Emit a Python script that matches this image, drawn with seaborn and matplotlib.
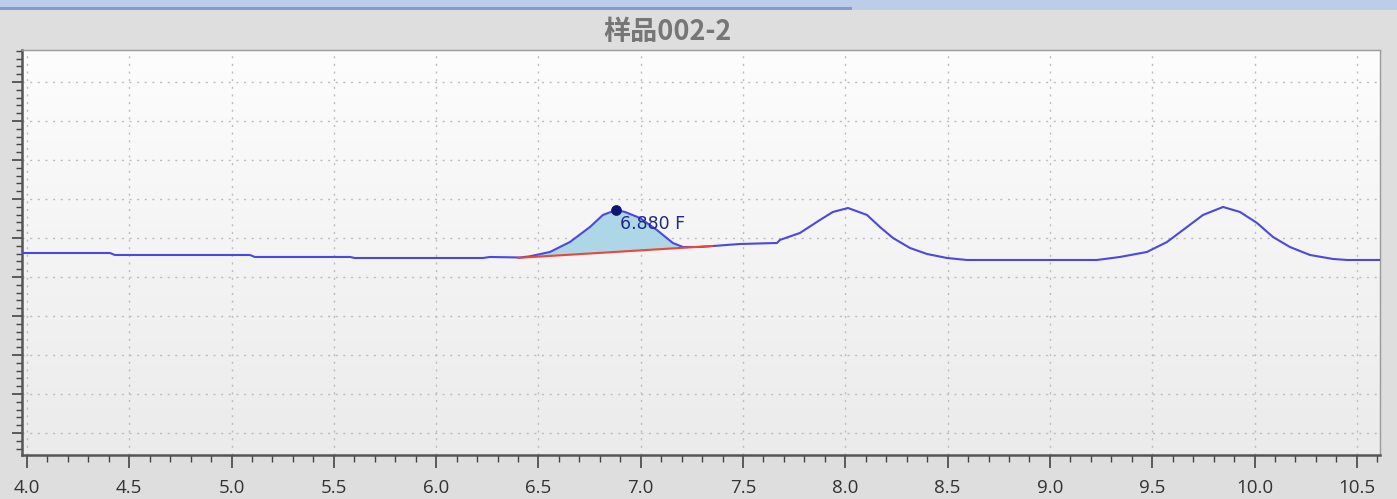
import numpy as np
import pandas as pd
import matplotlib
matplotlib.use("Agg")
import matplotlib.pyplot as plt
from matplotlib.ticker import MultipleLocator, FormatStrFormatter
from matplotlib.patches import Rectangle
import seaborn as sns

# Chromatogram trace (retention time in min, detector signal)
time_min = [3.976, 4.406, 4.430, 5.090, 5.114, 5.579, 5.603, 6.229, 6.263, 6.41,
            6.458, 6.556, 6.654, 6.752, 6.815, 6.880, 6.923, 6.996, 7.079, 7.157,
            7.206, 7.289, 7.485, 7.666, 7.680, 7.778, 7.876, 7.939, 8.013, 8.106,
            8.169, 8.233, 8.316, 8.399, 8.497, 8.594, 9.230, 9.342, 9.474, 9.572,
            9.670, 9.748, 9.846, 9.929, 10.012, 10.090, 10.173, 10.271, 10.383,
            10.452, 10.613]
signal = [5.615, 5.615, 5.564, 5.564, 5.513, 5.513, 5.487, 5.487, 5.513, 5.50,
          5.53, 5.641, 5.897, 6.282, 6.590, 6.718, 6.667, 6.513, 6.205, 5.872,
          5.769, 5.769, 5.846, 5.872, 5.949, 6.128, 6.462, 6.667, 6.769, 6.590,
          6.282, 6.000, 5.744, 5.590, 5.487, 5.436, 5.436, 5.513, 5.641, 5.897,
          6.282, 6.590, 6.795, 6.667, 6.385, 6.026, 5.769, 5.564, 5.462,
          5.436, 5.436]

# Integrated peak
peak_time = 6.880
peak_signal = 6.718
peak_label = "6.880 F"
baseline_start = (6.40, 5.49)
baseline_end = (7.35, 5.795)

x_ticks = [4.0, 4.5, 5.0, 5.5, 6.0, 6.5, 7.0, 7.5, 8.0, 8.5, 9.0, 9.5, 10.0, 10.5]
title = "样品002-2"

sns.set_style("white")
plt.rcParams["font.family"] = ["Noto Sans CJK SC", "DejaVu Sans"]

fig = plt.figure(figsize=(13.97, 4.99), dpi=100)
fig.patch.set_facecolor("#dedede")

# window strip along the top edge
fig.add_artist(Rectangle((0, 0.98), 1, 0.02, transform=fig.transFigure,
                         facecolor="#bccde9", edgecolor="none"))
fig.add_artist(Rectangle((0, 0.979), 0.61, 0.006, transform=fig.transFigure,
                         facecolor="#7f9dcc", edgecolor="none"))

ax = fig.add_axes([0.01575, 0.0882, 0.97205, 0.8116])
xmin, xmax = 3.976, 10.613
ymin, ymax = 0.436, 10.82

# soft vertical gradient behind the plot
grad = np.linspace(0, 1, 256).reshape(-1, 1)
ax.imshow(grad, extent=[xmin, xmax, ymin, ymax], aspect="auto", origin="upper",
          cmap=matplotlib.colors.LinearSegmentedColormap.from_list(
              "bg", ["#fdfdfd", "#ebebeb"]), zorder=0)

df = pd.DataFrame({"time": time_min, "signal": signal})
sns.lineplot(data=df, x="time", y="signal", ax=ax, color="#4a48e0",
             linewidth=1.5, zorder=4)

# shaded peak area above the straight baseline
t = np.array(time_min)
s = np.array(signal)
tp = np.linspace(baseline_start[0], baseline_end[0], 200)
sp = np.interp(tp, t, s)
bl = np.interp(tp, [baseline_start[0], baseline_end[0]],
               [baseline_start[1], baseline_end[1]])
ax.fill_between(tp, bl, np.maximum(sp, bl), color="#a9d6e6", alpha=0.95,
                zorder=3, linewidth=0)
ax.plot([baseline_start[0], baseline_end[0]], [baseline_start[1], baseline_end[1]],
        color="#e8473a", linewidth=1.5, zorder=5)

ax.scatter([peak_time], [peak_signal], s=45, color="#0d1670", zorder=6)
ax.text(peak_time + 0.02, peak_signal - 0.50, peak_label, fontsize=12.5,
        color="#1f2a80", zorder=7, family=["DejaVu Sans"])

ax.set_xlim(xmin, xmax)
ax.set_ylim(ymin, ymax)
ax.set_xticks(x_ticks)
ax.xaxis.set_major_formatter(FormatStrFormatter("%.1f"))
ax.xaxis.set_minor_locator(MultipleLocator(0.1))
ax.yaxis.set_major_locator(MultipleLocator(1))
ax.yaxis.set_minor_locator(MultipleLocator(0.2))
ax.tick_params(axis="y", which="both", labelleft=False, left=True,
               direction="out", color="#444444")
ax.tick_params(axis="y", which="major", length=7, width=1.2)
ax.tick_params(axis="y", which="minor", length=4, width=1.0)
ax.tick_params(axis="x", which="both", bottom=True, direction="out",
               color="#444444", labelsize=13.5, labelcolor="#333333", pad=8)
ax.tick_params(axis="x", which="major", length=9, width=1.2)
ax.tick_params(axis="x", which="minor", length=5, width=1.0)
for lbl in ax.get_xticklabels():
    lbl.set_family(["Open Sans", "DejaVu Sans"])

ax.grid(True, which="major", axis="both", color="#bdbdbd", linestyle=(0, (1.5, 4)),
        linewidth=1.0)
ax.set_axisbelow(True)
for side in ["left", "bottom"]:
    ax.spines[side].set_color("#555555")
    ax.spines[side].set_linewidth(1.8)
for side in ["top", "right"]:
    ax.spines[side].set_color("#9a9a9a")
    ax.spines[side].set_linewidth(1.0)
ax.set_xlabel("")
ax.set_ylabel("")

fig.text(0.478, 0.935, title, ha="center", va="center", fontsize=19.5,
         fontweight="bold", color="#767676")

fig.savefig("out.png", dpi=100, facecolor=fig.get_facecolor())
